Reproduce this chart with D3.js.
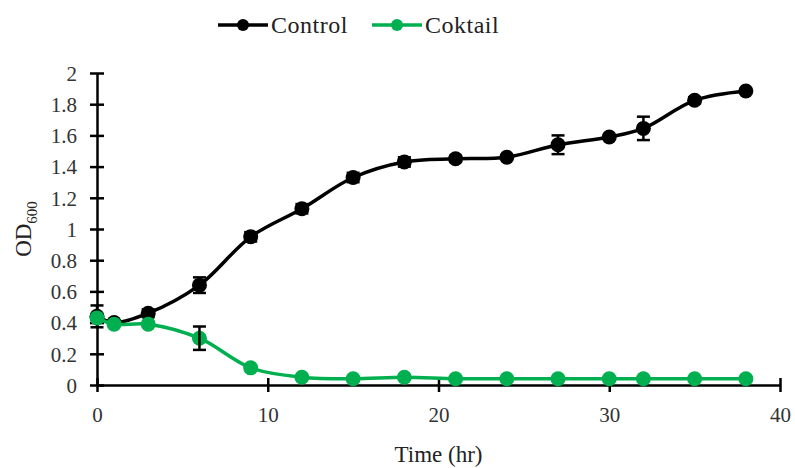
<!DOCTYPE html>
<html>
<head>
<meta charset="utf-8">
<script src="https://cdn.jsdelivr.net/npm/d3@7"></script>
<style>
  body { margin: 0; background: #fff; }
  svg text { font-family: "Liberation Serif", "Times New Roman", serif; }
</style>
</head>
<body>
<svg id="chart"></svg>
<script>
// time points (hr)
var hours = [0, 1, 3, 6, 9, 12, 15, 18, 21, 24, 27, 30, 32, 35, 38]
var control = [0.44, 0.40, 0.46, 0.64, 0.95, 1.13, 1.33, 1.43, 1.45, 1.46, 1.54, 1.59, 1.645, 1.825, 1.885]
var controlErr = [0.07, 0, 0.025, 0.05, 0.03, 0.03, 0.03, 0.03, 0.02, 0, 0.06, 0, 0.075, 0.02, 0]
var coktail = [0.43, 0.39, 0.39, 0.30, 0.11, 0.05, 0.04, 0.05, 0.04, 0.04, 0.04, 0.04, 0.04, 0.04, 0.04]
var coktailErr = [0, 0, 0, 0.075, 0, 0, 0, 0, 0, 0, 0, 0, 0, 0, 0]
var xTicks = [0, 10, 20, 30, 40]
var yTicks = [0, 0.2, 0.4, 0.6, 0.8, 1, 1.2, 1.4, 1.6, 1.8, 2]

var series = [
    {name: "Control", color: "#000000", values: control, err: controlErr},
    {name: "Coktail", color: "#00B050", values: coktail, err: coktailErr}
]

var dimensions = {
    width: 795,
    height: 468,
    margin: { top: 73, bottom: 83, right: 12, left: 97 }
}

var svg = d3.select("#chart")
    .attr("width", dimensions.width)
    .attr("height", dimensions.height)

var xScale = d3.scaleLinear()
    .domain([0, 40])
    .range([dimensions.margin.left, dimensions.width - dimensions.margin.right - 3])

var yScale = d3.scaleLinear()
    .domain([0, 2])
    .range([dimensions.height - dimensions.margin.bottom, dimensions.margin.top])

// axes: Excel style, ticks crossing the axis line
var yAxisgen = d3.axisLeft(yScale).tickValues(yTicks).tickSize(7).tickSizeOuter(0)
    .tickFormat(d => d3.format("")(+d.toFixed(1)))
var xAxisgen = d3.axisBottom(xScale).tickValues(xTicks).tickSize(7).tickSizeOuter(0)

var yAxis = svg.append("g")
    .attr("transform", `translate(${dimensions.margin.left},0)`)
    .call(yAxisgen)
yAxis.selectAll(".tick line").attr("x1", 7)
var xAxis = svg.append("g")
    .attr("transform", `translate(0,${yScale(0)})`)
    .call(xAxisgen)
xAxis.selectAll(".tick line").attr("y1", -7)

yAxis.attr("font-family", null).attr("font-size", null)
xAxis.attr("font-family", null).attr("font-size", null)

svg.selectAll(".domain, .tick line")
    .attr("stroke", "#000")
    .attr("stroke-width", 2.5)
yAxis.selectAll("text").attr("x", -20).attr("dy", "0.35em")
xAxis.selectAll("text").attr("y", 22).attr("dy", "0.71em")
svg.selectAll(".tick text")
    .attr("font-size", 21)
    .attr("fill", "#333")

// axis titles
svg.append("text")
    .attr("x", (xScale(0) + xScale(40)) / 2)
    .attr("y", 462)
    .attr("text-anchor", "middle")
    .attr("font-size", 23)
    .attr("fill", "#222")
    .text("Time (hr)")

var yTitle = svg.append("text")
    .attr("transform", `translate(31,${(yScale(0) + yScale(2)) / 2}) rotate(-90)`)
    .attr("text-anchor", "middle")
    .attr("font-size", 23)
    .attr("fill", "#222")
yTitle.append("tspan").text("OD")
yTitle.append("tspan").attr("font-size", 15).attr("dy", 6).text("600")

var line = d3.line()
    .x((d, i) => xScale(hours[i]))
    .y(d => yScale(d))
    .curve(d3.curveCatmullRom.alpha(0.5))

series.forEach(function (s) {
    var g = svg.append("g")
    g.append("path")
        .datum(s.values)
        .attr("d", line)
        .attr("fill", "none")
        .attr("stroke", s.color)
        .attr("stroke-width", 3.5)

    g.selectAll("circle")
        .data(s.values)
        .enter()
        .append("circle")
        .attr("cx", (d, i) => xScale(hours[i]))
        .attr("cy", d => yScale(d))
        .attr("r", 7.5)
        .attr("fill", s.color)

    // error bars (only where there is a visible spread)
    var errData = s.values.map((d, i) => ({x: hours[i], y: d, e: s.err[i]})).filter(d => d.e > 0)
    var eb = g.selectAll(".err")
        .data(errData)
        .enter()
        .append("g")
        .attr("class", "err")
        .attr("stroke", "#000")
        .attr("stroke-width", 2.5)
    eb.append("line")
        .attr("x1", d => xScale(d.x))
        .attr("x2", d => xScale(d.x))
        .attr("y1", d => yScale(d.y + d.e))
        .attr("y2", d => yScale(d.y - d.e))
    eb.append("line")
        .attr("x1", d => xScale(d.x) - 6.5)
        .attr("x2", d => xScale(d.x) + 6.5)
        .attr("y1", d => yScale(d.y + d.e))
        .attr("y2", d => yScale(d.y + d.e))
    eb.append("line")
        .attr("x1", d => xScale(d.x) - 6.5)
        .attr("x2", d => xScale(d.x) + 6.5)
        .attr("y1", d => yScale(d.y - d.e))
        .attr("y2", d => yScale(d.y - d.e))
})

// legend
var legendX = [218, 372]
series.forEach(function (s, i) {
    var lg = svg.append("g").attr("transform", `translate(${legendX[i]},25)`)
    lg.append("line")
        .attr("x1", 0).attr("x2", 50)
        .attr("stroke", s.color)
        .attr("stroke-width", 3.5)
    lg.append("circle").attr("cx", 25).attr("r", 6).attr("fill", s.color)
    lg.append("text")
        .attr("x", 53)
        .attr("dy", "0.35em")
        .attr("font-size", 24)
        .attr("letter-spacing", 0.5)
        .attr("fill", "#222")
        .text(s.name)
})
</script>
</body>
</html>
